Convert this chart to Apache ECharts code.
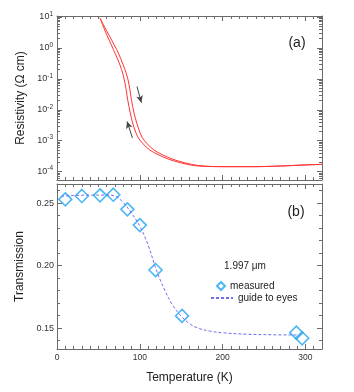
<!DOCTYPE html>
<html>
<head>
<meta charset="utf-8">
<script src="https://cdn.jsdelivr.net/npm/echarts@6/dist/echarts.min.js"></script>
<style>
html, body { margin: 0; padding: 0; background: #fff; }
#chart { width: 354px; height: 392px; }
</style>
</head>
<body>
<div id="chart"></div>
<script>
// (a) resistivity (Ω cm), the two branches of the loop
const tempUp = [52, 55, 58, 63, 68, 73, 78, 81, 83.5, 85.5, 88.5, 91, 94, 98, 104, 112, 122, 135, 150, 165, 180, 200, 240, 270, 300, 320]
const rhoUp = [9.12, 5.62, 3.55, 1.78, 0.89, 0.447, 0.2, 0.1, 0.0447, 0.02, 0.0079, 0.004, 0.00224, 0.00126, 0.00079, 0.0005, 0.000355, 0.000251, 0.000191, 0.000158, 0.000148, 0.000145, 0.000145, 0.000152, 0.000165, 0.000172]
const tempDown = [52, 56, 60, 66, 72, 77, 82, 85.5, 88, 90, 93, 96, 99, 103, 109, 117, 127, 140, 155, 170, 185, 200, 240, 270, 300, 320]
const rhoDown = [9.12, 5.62, 3.55, 1.78, 0.89, 0.447, 0.2, 0.1, 0.0447, 0.02, 0.0079, 0.004, 0.00224, 0.00126, 0.00079, 0.0005, 0.000355, 0.000251, 0.000191, 0.000158, 0.000148, 0.000145, 0.000145, 0.000152, 0.000165, 0.000172]
const arrowDown = [[96.6, 0.0562], [101.9, 0.0170]]
const arrowUp = [[91.1, 0.00123], [84.6, 0.00417]]

// (b) transmission at 1.997 µm
const transTemp = [10, 30, 52, 68, 85, 100, 119, 151, 289, 296]
const transMeasured = [0.2531, 0.2558, 0.2563, 0.2568, 0.2451, 0.2325, 0.1965, 0.1597, 0.1463, 0.1418]
const guideTemp = [5, 20, 40, 60, 70, 80, 90, 100, 110, 120, 130, 140, 150, 160, 170, 185, 200, 230, 260, 292]
const guideValue = [0.2555, 0.2562, 0.2565, 0.2565, 0.2558, 0.2505, 0.2420, 0.2315, 0.2165, 0.1965, 0.1805, 0.1680, 0.1595, 0.1535, 0.1500, 0.1475, 0.1462, 0.1450, 0.1446, 0.1444]

// tick labels
const tempTicks = [0, 100, 200, 300]
const rhoDecades = [-4, -3, -2, -1, 0, 1]
const transTicks = [0.15, 0.20, 0.25]

const tempRange = [0, 320]
const rhoRange = [-4.27, 1.03]      // log10 of Ω cm
const transRange = [0.1332, 0.2654]

// minor tick positions
const tempMinor = []
for (let t = 10; t < 320; t += 10) if (t % 100) tempMinor.push(t)
const rhoMinor = []
for (let n = -5; n <= 1; n++) {
    for (let k = 2; k <= 9; k++) {
        const v = n + Math.log10(k)
        if (v > rhoRange[0] && v < rhoRange[1]) rhoMinor.push(v)
    }
}
const transMinor = []
for (let i = 14; i <= 26; i++) if (i % 5) transMinor.push(i / 100)

const font = 'Liberation Sans, Arial, sans-serif'
const frameColor = '#6a6a6a'

const grids = [
    { left: 57, top: 16, width: 265, height: 164 },
    { left: 57, top: 16, width: 265, height: 164 },
    { left: 57, top: 184, width: 265, height: 165 },
    { left: 57, top: 184, width: 265, height: 165 }
]

const edge = (grid, position, range, ticks, major, extra) => Object.assign({
    type: 'value',
    gridIndex: grid,
    position,
    min: range[0],
    max: range[1],
    axisLine: { show: major, onZero: false, lineStyle: { color: frameColor, width: 1 } },
    axisTick: {
        show: true, inside: true, length: major ? 5 : 3,
        customValues: ticks,
        lineStyle: { color: frameColor, width: 1 }
    },
    axisLabel: { show: false },
    splitLine: { show: false }
}, extra || {})

const logLabel = {
    show: true,
    customValues: rhoDecades,
    margin: 4,
    fontFamily: font,
    color: '#333',
    formatter: v => `{b|10}{s|${Math.round(v)}}`,
    rich: {
        b: { fontSize: 9, fontFamily: font, color: '#333' },
        s: { fontSize: 6.5, fontFamily: font, color: '#333', padding: [0, 0, 6, 0] }
    }
}

const yName = {
    nameLocation: 'middle',
    nameGap: 30,
    nameTextStyle: { fontSize: 12, fontFamily: font, color: '#222' }
}

const xAxis = [
    edge(0, 'bottom', tempRange, tempTicks, true),
    edge(0, 'top', tempRange, tempTicks, true),
    edge(1, 'bottom', tempRange, tempMinor, false),
    edge(1, 'top', tempRange, tempMinor, false),
    edge(2, 'bottom', tempRange, tempTicks, true, {
        axisLabel: { show: true, customValues: tempTicks, margin: 4, fontSize: 8.5, fontFamily: font, color: '#333' },
        name: 'Temperature (K)',
        nameLocation: 'middle',
        nameGap: 23,
        nameTextStyle: { fontSize: 12, fontFamily: font, color: '#222' }
    }),
    edge(2, 'top', tempRange, tempTicks, true),
    edge(3, 'bottom', tempRange, tempMinor, false),
    edge(3, 'top', tempRange, tempMinor, false)
]

const yAxis = [
    edge(0, 'left', rhoRange, rhoDecades, true, Object.assign({ name: 'Resistivity (Ω cm)', axisLabel: logLabel }, yName)),
    edge(0, 'right', rhoRange, rhoDecades, true),
    edge(1, 'left', rhoRange, rhoMinor, false),
    edge(1, 'right', rhoRange, rhoMinor, false),
    edge(2, 'left', transRange, transTicks, true, Object.assign({
        name: 'Transmission',
        axisLabel: {
            show: true, customValues: transTicks, margin: 3, fontSize: 9, fontFamily: font, color: '#333',
            formatter: v => v.toFixed(2)
        }
    }, yName)),
    edge(2, 'right', transRange, transTicks, true),
    edge(3, 'left', transRange, transMinor, false),
    edge(3, 'right', transRange, transMinor, false)
]

const toLog = (temps, rhos) => temps.map((t, i) => [t, Math.log10(rhos[i])])
const arrowLine = pts => pts.map(p => ({ coord: [p[0], Math.log10(p[1])] }))

const option = {
    animation: false,
    backgroundColor: '#fff',
    grid: grids,
    xAxis,
    yAxis,
    legend: [
        {
            data: ['measured'],
            left: 216, top: 281,
            itemWidth: 8, itemHeight: 8,
            padding: 0,
            textStyle: { fontSize: 10, fontFamily: font, color: '#222' }
        },
        {
            data: ['guide to eyes'],
            left: 210, top: 293,
            itemWidth: 22, itemHeight: 8,
            padding: 0,
            itemStyle: { color: 'rgba(0,0,0,0)', borderWidth: 0 },
            textStyle: { fontSize: 10, fontFamily: font, color: '#222' }
        }
    ],
    graphic: [
        { type: 'text', x: 297, y: 43, style: { text: '(a)', font: `14px ${font}`, fill: '#222', align: 'center', verticalAlign: 'middle' } },
        { type: 'text', x: 296, y: 212, style: { text: '(b)', font: `14px ${font}`, fill: '#222', align: 'center', verticalAlign: 'middle' } },
        { type: 'text', x: 245, y: 266, style: { text: '1.997 μm', font: `10px ${font}`, fill: '#222', align: 'center', verticalAlign: 'middle' } }
    ],
    series: [
        {
            name: 'cooling',
            type: 'line',
            xAxisIndex: 0, yAxisIndex: 0,
            data: toLog(tempDown, rhoDown),
            smooth: 0.3,
            symbol: 'none',
            lineStyle: { color: '#f33', width: 1 },
            markLine: {
                silent: true,
                animation: false,
                symbol: ['none', 'arrow'],
                symbolSize: [5, 7],
                label: { show: false },
                lineStyle: { color: '#444', width: 1, type: 'solid' },
                data: [arrowLine(arrowDown), arrowLine(arrowUp)]
            }
        },
        {
            name: 'warming',
            type: 'line',
            xAxisIndex: 0, yAxisIndex: 0,
            data: toLog(tempUp, rhoUp),
            smooth: 0.3,
            symbol: 'none',
            lineStyle: { color: '#f33', width: 1 }
        },
        {
            name: 'guide to eyes',
            type: 'line',
            xAxisIndex: 4, yAxisIndex: 4,
            data: guideTemp.map((t, i) => [t, guideValue[i]]),
            smooth: 0.4,
            symbol: 'none',
            lineStyle: { color: '#6f6ff0', width: 1, type: [3, 2] },
            itemStyle: { color: 'rgba(0,0,0,0)' }
        },
        {
            name: 'measured',
            type: 'scatter',
            xAxisIndex: 4, yAxisIndex: 4,
            data: transTemp.map((t, i) => [t, transMeasured[i]]),
            symbol: 'diamond',
            symbolSize: 13,
            itemStyle: { color: 'rgba(255,255,255,0)', borderColor: '#1ea5f0', borderWidth: 1.6 }
        }
    ]
}

const chart = echarts.init(document.getElementById('chart'))
chart.setOption(option)
</script>
</body>
</html>
